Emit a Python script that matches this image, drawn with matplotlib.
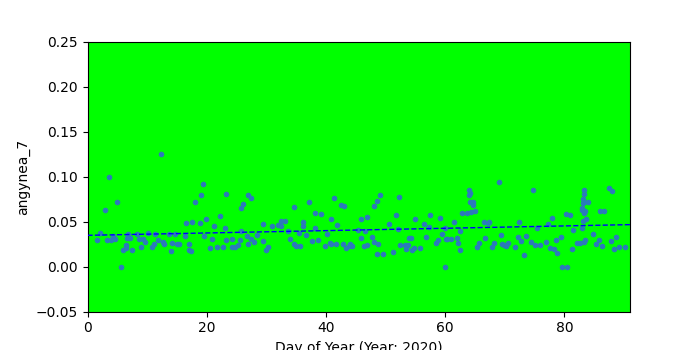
import numpy as np
import matplotlib
matplotlib.use('Agg')
import matplotlib.pyplot as plt

# Readings grouped by stretch of days (day, value pairs kept aligned per block)
day_a = [12.3, 3.6, 4.9, 2.9, 2.1, 1.6, 3.2, 3.9, 4.6, 4.2, 5.6, 5.9, 6.4, 6.5,
         6.8, 6.6, 7.1, 7.4, 8.3, 8.7, 9.3, 9.6, 8.9, 10.1, 10.9, 11.2, 11.3,
         11.8, 12.6, 12.8, 13.6, 14.0, 14.1, 14.6, 15.0]
val_a = [0.125, 0.100, 0.072, 0.063, 0.0375, 0.030, 0.030, 0.030, 0.031, 0.034,
         0.000, 0.019, 0.021, 0.024, 0.036, 0.032, 0.032, 0.019, 0.036, 0.031,
         0.031, 0.027, 0.022, 0.037, 0.022, 0.025, 0.036, 0.030, 0.027, 0.025,
         0.036, 0.017, 0.026, 0.036, 0.025]

day_b = [19.3, 19.1, 18.1, 23.2, 26.9, 27.5, 26.0, 25.7, 16.6, 17.6, 18.8, 19.8,
         22.2, 21.3, 23.0, 29.5, 15.4, 16.3, 17.1, 17.1, 17.3, 19.6, 20.8, 20.5,
         21.7, 22.7, 23.3, 24.3, 24.2, 24.7, 25.2, 25.5, 25.8, 26.7, 27.0, 27.4,
         27.9, 28.4, 29.4, 29.9, 30.2]
val_b = [0.092, 0.080, 0.072, 0.081, 0.080, 0.076, 0.070, 0.065, 0.049, 0.050,
         0.049, 0.053, 0.056, 0.045, 0.043, 0.047, 0.025, 0.034, 0.025, 0.019,
         0.017, 0.034, 0.031, 0.021, 0.022, 0.022, 0.030, 0.031, 0.022, 0.022,
         0.024, 0.030, 0.040, 0.034, 0.025, 0.031, 0.027, 0.035, 0.029, 0.019,
         0.022]

day_c = [37.2, 41.4, 42.6, 43.1, 34.6, 38.2, 39.1, 40.9, 41.9, 30.9, 32.4, 33.2,
         32.0, 32.5, 36.1, 36.2, 38.1, 33.7, 35.4, 36.6, 40.1, 33.9, 34.7, 34.9,
         35.7, 37.6, 38.7, 39.9, 40.6, 40.9, 41.6, 42.8, 43.3, 43.8, 44.1, 44.4,
         45.3]
val_c = [0.072, 0.076, 0.069, 0.067, 0.066, 0.060, 0.059, 0.053, 0.046, 0.045,
         0.051, 0.051, 0.046, 0.045, 0.045, 0.050, 0.043, 0.040, 0.037, 0.035,
         0.036, 0.031, 0.025, 0.023, 0.023, 0.029, 0.030, 0.023, 0.026, 0.025,
         0.025, 0.025, 0.021, 0.023, 0.025, 0.023, 0.041]

day_d = [49.1, 48.5, 48.0, 52.3, 45.8, 46.8, 51.8, 50.6, 55.0, 57.5, 59.2, 56.5,
         46.6, 52.0, 57.3, 60.0, 59.5, 45.9, 47.8, 46.3, 46.9, 48.1, 48.8, 48.6,
         49.6, 51.3, 52.5, 53.2, 53.7, 53.5, 54.0, 54.3, 54.5, 54.8, 55.8, 56.8,
         58.5, 58.8, 60.2, 59.9]
val_d = [0.080, 0.073, 0.067, 0.077, 0.053, 0.055, 0.057, 0.047, 0.053, 0.057,
         0.054, 0.047, 0.040, 0.042, 0.044, 0.043, 0.036, 0.032, 0.033, 0.023,
         0.024, 0.027, 0.025, 0.014, 0.014, 0.016, 0.024, 0.024, 0.024, 0.020,
         0.032, 0.032, 0.019, 0.021, 0.021, 0.033, 0.026, 0.030, 0.031, 0.000]

day_e = [69.1, 74.8, 64.0, 64.2, 64.0, 64.2, 64.7, 64.7, 62.9, 63.7, 64.4, 65.0,
         61.5, 66.5, 67.1, 67.4, 72.4, 62.4, 75.4, 60.3, 61.0, 61.9, 62.2, 62.5,
         65.4, 65.6, 66.7, 67.9, 68.2, 69.4, 69.6, 69.9, 70.2, 70.6, 71.7, 72.2,
         72.7, 73.2, 73.6, 74.4, 75.1]
val_e = [0.094, 0.085, 0.085, 0.082, 0.080, 0.072, 0.072, 0.069, 0.060, 0.060,
         0.061, 0.062, 0.050, 0.050, 0.049, 0.050, 0.050, 0.040, 0.043, 0.031,
         0.031, 0.032, 0.026, 0.019, 0.022, 0.026, 0.032, 0.022, 0.026, 0.035,
         0.025, 0.024, 0.023, 0.026, 0.022, 0.033, 0.029, 0.013, 0.034, 0.027,
         0.024]

day_f = [83.2, 83.3, 83.1, 83.1, 83.3, 83.0, 82.9, 83.2, 83.5, 84.0, 87.5, 88.0,
         86.0, 86.6, 80.3, 80.9, 77.9, 77.3, 83.1, 83.6, 81.5, 83.0, 84.8, 79.4,
         78.6, 76.9, 75.9, 77.6, 78.2, 78.8, 81.3, 82.1, 82.6, 83.3, 83.5, 85.8,
         85.3, 86.3, 87.8, 88.7, 88.3, 89.2, 90.2, 79.6, 80.4]
val_f = [0.085, 0.081, 0.075, 0.071, 0.072, 0.065, 0.063, 0.060, 0.062, 0.072,
         0.087, 0.084, 0.062, 0.062, 0.059, 0.057, 0.054, 0.047, 0.051, 0.053,
         0.041, 0.043, 0.036, 0.033, 0.030, 0.027, 0.024, 0.021, 0.020, 0.015,
         0.020, 0.026, 0.026, 0.027, 0.030, 0.030, 0.025, 0.023, 0.029, 0.033,
         0.020, 0.022, 0.022, 0.000, 0.000]

# Linear trend line as drawn in the reference (endpoints)
trend_x = [0, 91]
trend_y = [0.0348, 0.0467]

day = np.concatenate([day_a, day_b, day_c, day_d, day_e, day_f])
angynea_7 = np.concatenate([val_a, val_b, val_c, val_d, val_e, val_f])

fig, ax = plt.subplots(figsize=(7, 3.5), dpi=100)
ax.set_facecolor('#00ff00')

ax.scatter(day, angynea_7, s=9, color='#2b7bba', zorder=2)
ax.plot(trend_x, trend_y, '--', color='blue', linewidth=1, zorder=3)

ax.set_xlim(0, 91)
ax.set_ylim(-0.05, 0.25)
ax.set_xlabel('Day of Year (Year: 2020)')
ax.set_ylabel('angynea_7')

fig.savefig('out.png', dpi=100)
